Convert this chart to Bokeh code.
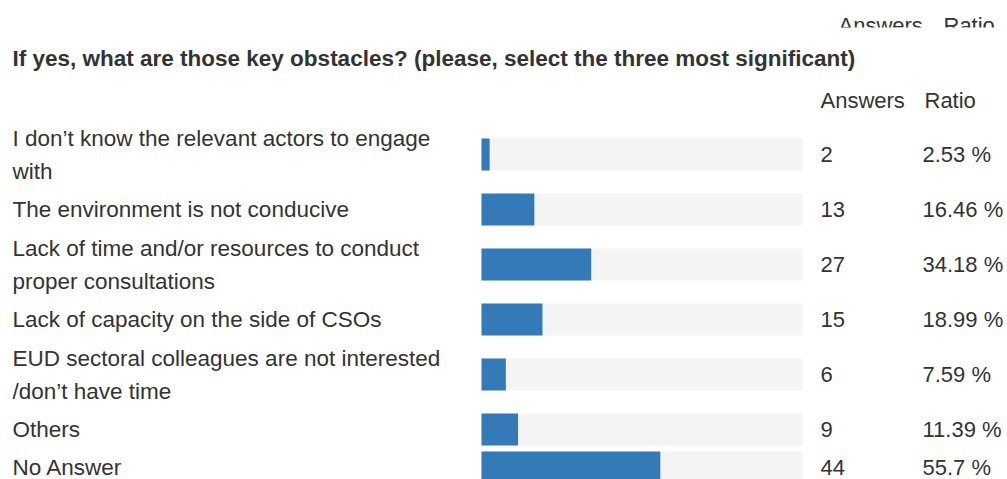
from bokeh.plotting import figure
from bokeh.models import Range1d, ColumnDataSource
from bokeh.core.properties import value
from bokeh.embed import file_html
from bokeh.resources import INLINE

# ---- data ----
title = "If yes, what are those key obstacles? (please, select the three most significant)"
categories = [
    "I don\u2019t know the relevant actors to engage\nwith",
    "The environment is not conducive",
    "Lack of time and/or resources to conduct\nproper consultations",
    "Lack of capacity on the side of CSOs",
    "EUD sectoral colleagues are not interested\n/don\u2019t have time",
    "Others",
    "No Answer",
]
answers = [2, 13, 27, 15, 6, 9, 44]
ratios = [2.53, 16.46, 34.18, 18.99, 7.59, 11.39, 55.7]
ratio_labels = ["2.53 %", "16.46 %", "34.18 %", "18.99 %", "7.59 %", "11.39 %", "55.7 %"]
col_headers = ["Answers", "Ratio"]

# ---- layout (pixel-like coordinate system) ----
W, H = 1007, 479
TRACK_X0, TRACK_W = 481, 321
BAR_H = 32
row_y = [154, 209, 264, 319, 374, 429, 467]
LABEL_X = 12
ANS_X = 820
RAT_X = 922
FONT = "Liberation Sans"
FS = "22px"
FS_LABEL = "22.5px"
TXT = "#333333"

p = figure(width=W, height=H, output_backend="svg", toolbar_location=None,
           x_range=Range1d(0, W), y_range=Range1d(H, 0), min_border=0,
           border_fill_color="white", background_fill_color="white")
p.axis.visible = False
p.grid.visible = False
p.outline_line_color = None

src = ColumnDataSource(dict(
    y=row_y,
    cat=categories,
    ans=[str(a) for a in answers],
    rl=ratio_labels,
    x0=[TRACK_X0] * len(ratios),
    x1=[TRACK_X0 + TRACK_W] * len(ratios),
    xv=[TRACK_X0 + r / 100.0 * TRACK_W for r in ratios],
    top=[y - BAR_H / 2 for y in row_y],
    bot=[y + BAR_H / 2 for y in row_y],
))

# tracks and bars
p.quad(left="x0", right="x1", top="top", bottom="bot", source=src,
       fill_color="#f4f4f4", line_color=None)
p.quad(left="x0", right="xv", top="top", bottom="bot", source=src,
       fill_color="#337ab7", line_color=None)

# labels
p.text(x=LABEL_X, y="y", text="cat", source=src, text_font=value(FONT),
       text_font_size=FS_LABEL, text_color=TXT, text_baseline="middle",
       text_align="left", text_line_height=1.32)
p.text(x=ANS_X, y="y", text="ans", source=src, text_font=value(FONT),
       text_font_size=FS, text_color=TXT, text_baseline="middle")
p.text(x=RAT_X, y="y", text="rl", source=src, text_font=value(FONT),
       text_font_size=FS, text_color=TXT, text_baseline="middle")

# column headers
p.text(x=[ANS_X, RAT_X + 2], y=[100, 100], text=col_headers, text_font=value(FONT),
       text_font_size=FS, text_color=TXT, text_baseline="middle")

# cut-off header at top (from a previous block)
p.text(x=[ANS_X + 18, RAT_X + 21], y=[12, 12], text=col_headers, text_font=value(FONT),
       text_font_size=FS, text_color=TXT, text_baseline="top")
p.quad(left=[0], right=[W], top=[27], bottom=[44], fill_color="white", line_color=None)

# title
p.text(x=[LABEL_X], y=[58], text=[title], text_font=value(FONT),
       text_font_size=FS_LABEL, text_font_style="bold", text_color=TXT,
       text_baseline="middle")

open("out.html", "w").write(file_html(p, INLINE))
